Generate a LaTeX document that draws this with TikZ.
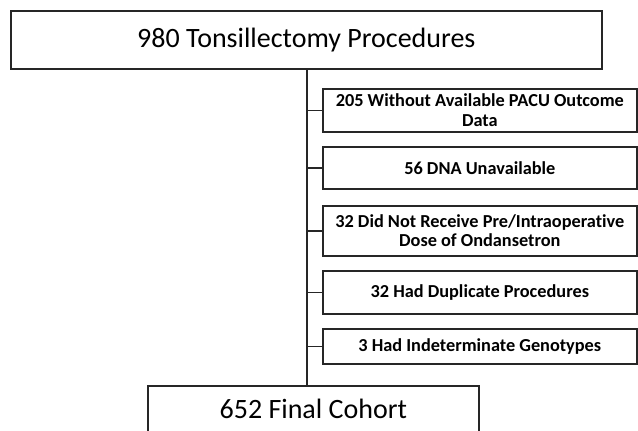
\documentclass[tikz,border=0pt]{standalone}
\usepackage{fontspec}
\setmainfont{Carlito}[Ligatures=NoCommon]
\begin{document}
\begin{tikzpicture}[x=1pt,y=-1pt,
  box/.style={draw=black!85, line width=1.6pt, inner sep=0pt, anchor=north west},
  big/.style={box, font=\fontsize{28}{32}\selectfont},
  side/.style={box, font=\fontsize{18.3}{19.5}\selectfont\bfseries, align=center, minimum width=314pt},
  link/.style={draw=black!85, line width=1.6pt}]
\clip (0,0) rectangle (638,431);
\fill[white] (0,0) rectangle (638,431);
\node[big, minimum width=591pt, minimum height=58pt] (top) at (10,10) {980 Tonsillectomy Procedures};
\node[side, minimum height=43pt] (s1) at (322,88) {205 Without Available PACU Outcome\\Data};
\node[side, minimum height=42pt] (s2) at (322,146) {56 DNA Unavailable};
\node[side, minimum height=50pt] (s3) at (322,205) {32 Did Not Receive Pre/Intraoperative\\Dose of Ondansetron};
\node[side, minimum height=43pt] (s4) at (322,270) {32 Had Duplicate Procedures};
\node[side, minimum height=35pt] (s5) at (322,328) {3 Had Indeterminate Genotypes};
\node[big, minimum width=331pt, minimum height=47pt] (fin) at (147,385) {652 Final Cohort};
\path (top.south) ++(0.5,0) coordinate (tp);
\draw[link] (tp) -- (tp |- fin.north);
\foreach \s in {s1,s2,s3,s4,s5} {\draw[link] (\s.west) -- (\s.west -| tp);}
\end{tikzpicture}
\end{document}
